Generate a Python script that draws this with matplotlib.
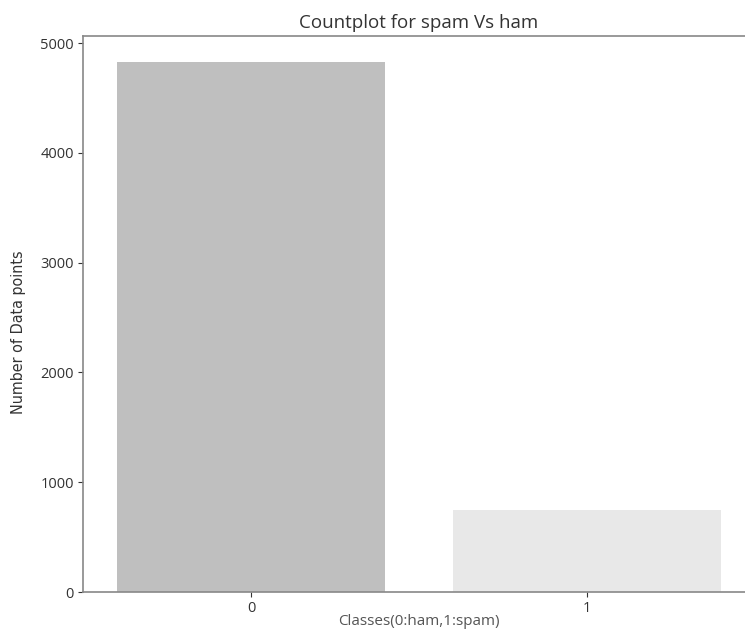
import matplotlib
matplotlib.use("Agg")
import matplotlib.pyplot as plt

categories = ["0", "1"]
counts = [4825, 747]
colors = ["#bfbfbf", "#e8e8e8"]
yticks = [0, 1000, 2000, 3000, 4000, 5000]

plt.rcParams['font.family'] = ['Open Sans', 'DejaVu Sans']

fig = plt.figure(figsize=(7.45, 6.3), dpi=100)
ax = fig.add_axes([0.1114, 0.0603, 0.902, 0.8827])
x = list(range(len(categories)))
ax.bar(x, counts, width=0.8, color=colors)
ax.set_xlim(-0.5, 1.5)
ax.set_ylim(0, max(counts) * 1.05)
ax.set_xticks(x)
ax.set_xticklabels(categories)
ax.set_yticks(yticks)
ax.tick_params(labelsize=10.5, colors="#333333", length=3.5, pad=3)
for s in ax.spines.values():
    s.set_color("#888888")
    s.set_linewidth(1.2)
ax.set_title("Countplot for spam Vs ham", fontsize=13.5, color="#333333", pad=6)
ax.set_xlabel("Classes(0:ham,1:spam)", fontsize=11, color="#555555")
ax.xaxis.set_label_coords(0.5, -0.04)
ax.set_ylabel("Number of Data points", fontsize=11.5, color="#333333",
              fontstretch='condensed', family=['Liberation Sans Narrow', 'DejaVu Sans'])
ax.yaxis.set_label_coords(-0.085, 0.467)
fig.savefig("out.png", dpi=100)
